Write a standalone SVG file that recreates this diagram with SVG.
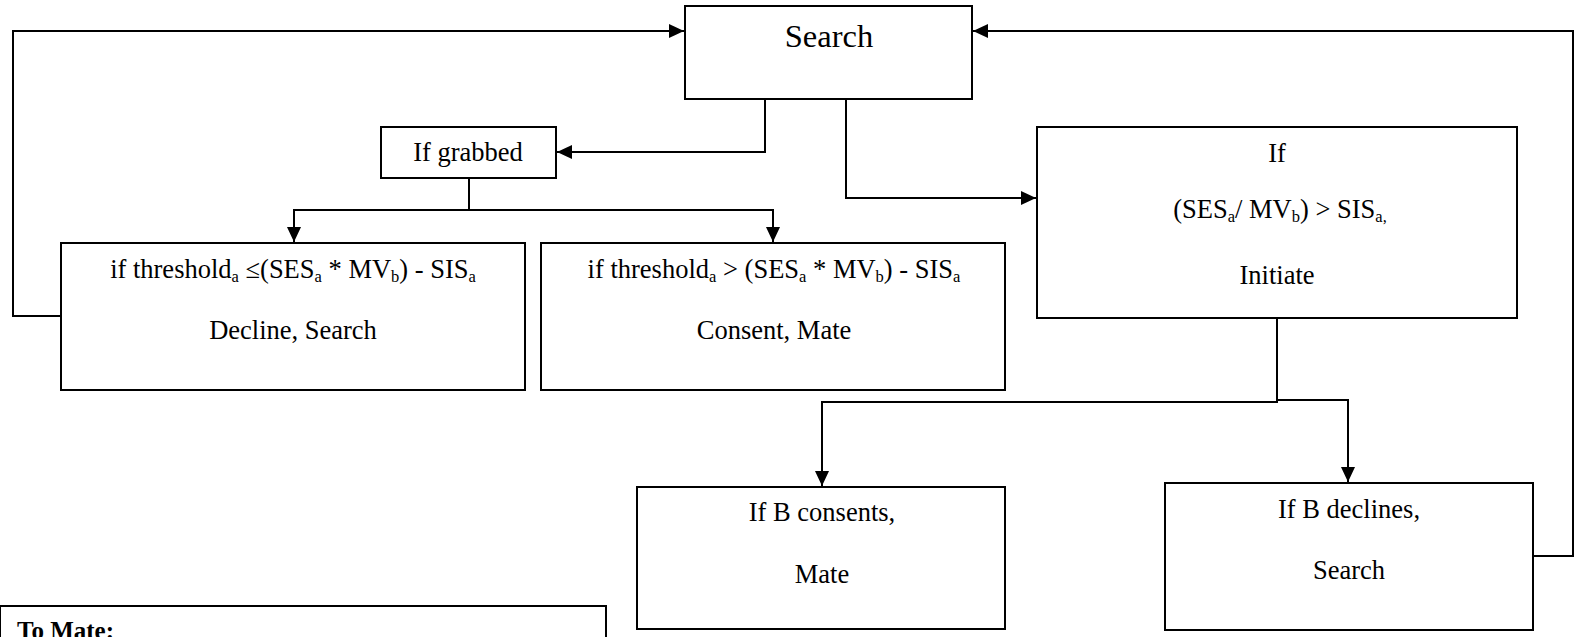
<svg xmlns="http://www.w3.org/2000/svg" width="1575" height="637" viewBox="0 0 1575 637">
<style>
.box{fill:#fff;stroke:#000;stroke-width:2}
.ln{fill:none;stroke:#000;stroke-width:2}
text{font-family:'Liberation Serif','Times New Roman','DejaVu Serif',serif;font-size:26.5px;fill:#000;text-anchor:middle}
.s{font-size:16.5px}
</style>
<defs>
<marker id="ah" markerUnits="userSpaceOnUse" markerWidth="16" markerHeight="14" refX="15" refY="7" orient="auto">
<path d="M0,0 L15,7 L0,14 Z" fill="#000"/>
</marker>
</defs>
<rect width="1575" height="637" fill="#fff"/>
<g id="connectors">
<path class="ln" d="M61,316 H13 V31 H684" marker-end="url(#ah)"/>
<path class="ln" d="M1533,556 H1573 V31 H973" marker-end="url(#ah)"/>
<path class="ln" d="M765,99 V152 H557" marker-end="url(#ah)"/>
<path class="ln" d="M846,99 V198 H1036" marker-end="url(#ah)"/>
<path class="ln" d="M469,178 V210 H294 V242" marker-end="url(#ah)"/>
<path class="ln" d="M469,210 H773 V242" marker-end="url(#ah)"/>
<path class="ln" d="M1277,318 V402 H822 V486" marker-end="url(#ah)"/>
<path class="ln" d="M1277,400 H1348 V482" marker-end="url(#ah)"/>
</g>
<g id="search">
<rect class="box" x="685" y="6" width="287" height="93"/>
<text x="829" y="47" style="font-size:32.5px">Search</text>
</g>
<g id="grabbed">
<rect class="box" x="381" y="127" width="175" height="51"/>
<text x="468" y="161">If grabbed</text>
</g>
<g id="initiate">
<rect class="box" x="1037" y="127" width="480" height="191"/>
<text x="1277" y="162">If</text>
<text x="1280" y="218">(SES<tspan class="s" dy="4">a</tspan><tspan dy="-4">/ MV</tspan><tspan class="s" dy="4">b</tspan><tspan dy="-4">) &gt; SIS</tspan><tspan class="s" dy="4">a,</tspan></text>
<text x="1277" y="284">Initiate</text>
</g>
<g id="decline">
<rect class="box" x="61" y="243" width="464" height="147"/>
<text x="293" y="278">if threshold<tspan class="s" dy="4">a</tspan><tspan dy="-4"> ≤(SES</tspan><tspan class="s" dy="4">a</tspan><tspan dy="-4"> * MV</tspan><tspan class="s" dy="4">b</tspan><tspan dy="-4">) - SIS</tspan><tspan class="s" dy="4">a</tspan></text>
<text x="293" y="339">Decline, Search</text>
</g>
<g id="consent">
<rect class="box" x="541" y="243" width="464" height="147"/>
<text x="774" y="278">if threshold<tspan class="s" dy="4">a</tspan><tspan dy="-4"> &gt; (SES</tspan><tspan class="s" dy="4">a</tspan><tspan dy="-4"> * MV</tspan><tspan class="s" dy="4">b</tspan><tspan dy="-4">) - SIS</tspan><tspan class="s" dy="4">a</tspan></text>
<text x="774" y="339">Consent, Mate</text>
</g>
<g id="bconsents">
<rect class="box" x="637" y="487" width="368" height="142"/>
<text x="822" y="521">If B consents,</text>
<text x="822" y="583">Mate</text>
</g>
<g id="bdeclines">
<rect class="box" x="1165" y="483" width="368" height="147"/>
<text x="1349" y="518">If B declines,</text>
<text x="1349" y="579">Search</text>
</g>
<g id="tomate">
<rect class="box" x="0" y="606" width="606" height="40"/>
<text x="17" y="639" style="text-anchor:start;font-weight:bold;font-size:25px">To Mate:</text>
</g>
</svg>
